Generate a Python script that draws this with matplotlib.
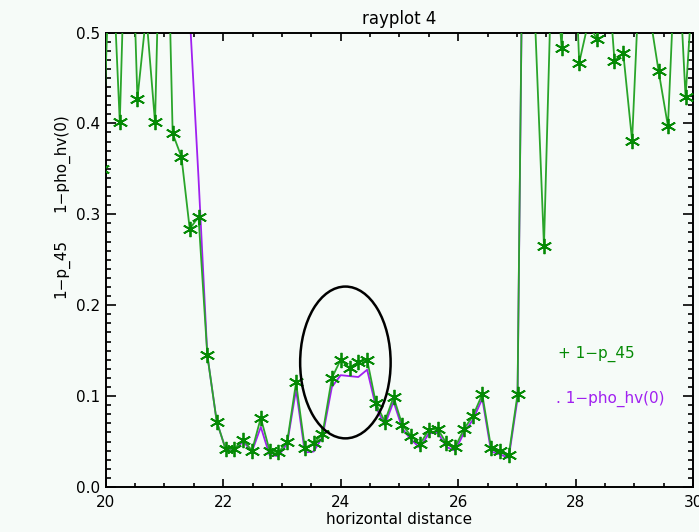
import matplotlib
matplotlib.use("Agg")
import matplotlib.pyplot as plt
from matplotlib.patches import Ellipse
from matplotlib.ticker import MultipleLocator, FormatStrFormatter

# horizontal positions of the ray samples
dist = [19.94, 20.09, 20.24, 20.39, 20.54, 20.69, 20.84, 20.99, 21.14, 21.29,
        21.43, 21.58, 21.73, 21.89, 22.04, 22.19, 22.34, 22.49, 22.64, 22.79,
        22.94, 23.09, 23.24, 23.39, 23.54, 23.69, 23.85, 24.00, 24.15, 24.30,
        24.45, 24.60, 24.75, 24.90, 25.05, 25.20, 25.35, 25.50, 25.65, 25.80,
        25.95, 26.10, 26.25, 26.41, 26.56, 26.71, 26.86, 27.01, 27.16, 27.31,
        27.46, 27.61, 27.76, 27.91, 28.06, 28.21, 28.36, 28.51, 28.66, 28.81,
        28.96, 29.11, 29.26, 29.41, 29.57, 29.72, 29.87, 30.02]

one_minus_p45 = [0.35, 0.62, 0.401, 0.74, 0.427, 0.52, 0.401, 0.80, 0.389, 0.363,
                 0.284, 0.297, 0.145, 0.072, 0.042, 0.042, 0.052, 0.040, 0.076, 0.040,
                 0.038, 0.050, 0.115, 0.043, 0.048, 0.058, 0.120, 0.140, 0.131, 0.137,
                 0.140, 0.092, 0.072, 0.099, 0.068, 0.056, 0.047, 0.063, 0.064, 0.048,
                 0.044, 0.064, 0.078, 0.102, 0.043, 0.040, 0.035, 0.102, 1.00, 0.51,
                 0.265, 0.62, 0.483, 0.70, 0.467, 0.51, 0.493, 0.60, 0.469, 0.477,
                 0.381, 0.60, 0.52, 0.458, 0.397, 0.62, 0.429, 0.58]

one_minus_rhohv = [1.0, 1.0, 1.0, 1.0, 1.0, 1.0, 1.0, 1.0, 1.0, 1.0,
                   0.52, 0.34, 0.145, 0.072, 0.042, 0.041, 0.050, 0.039, 0.066, 0.035,
                   0.034, 0.048, 0.107, 0.038, 0.039, 0.055, 0.110, 0.123, 0.122, 0.121,
                   0.129, 0.088, 0.068, 0.094, 0.064, 0.052, 0.043, 0.059, 0.060, 0.044,
                   0.040, 0.060, 0.074, 0.097, 0.039, 0.036, 0.032, 0.097, 1.0, 1.0,
                   1.0, 1.0, 1.0, 1.0, 1.0, 1.0, 1.0, 1.0, 1.0, 1.0,
                   1.0, 1.0, 1.0, 1.0, 1.0, 1.0, 1.0, 1.0]

bg = '#f6fbf8'
green_line = '#2aa52a'
green_mark = '#058a05'
purple = '#a020f0'

plt.rcParams['font.family'] = 'DejaVu Sans'

fig = plt.figure(figsize=(6.99, 5.32), dpi=100, facecolor=bg)
ax = fig.add_axes([0.1512, 0.0846, 0.8405, 0.8543], facecolor=bg)

ax.plot(dist, one_minus_rhohv, color=purple, lw=1.3, zorder=2)
ax.plot(dist, one_minus_p45, color=green_line, lw=1.3, zorder=3)
ax.plot(dist, one_minus_p45, linestyle='none', marker=(6, 2, 0), markersize=11,
        markeredgecolor=green_mark, markeredgewidth=1.3, zorder=4)

# highlight the bump near 24 km
ax.add_patch(Ellipse((24.08, 0.137), 1.54, 0.167, fill=False,
                     edgecolor='black', lw=1.8, zorder=5))

ax.set_xlim(20, 30)
ax.set_ylim(0, 0.5)
ax.xaxis.set_major_locator(MultipleLocator(2))
ax.xaxis.set_minor_locator(MultipleLocator(0.5))
ax.yaxis.set_major_locator(MultipleLocator(0.1))
ax.yaxis.set_minor_locator(MultipleLocator(0.01))
ax.yaxis.set_major_formatter(FormatStrFormatter('%.1f'))
ax.tick_params(which='both', direction='in', top=True, right=True,
               labelsize=11, width=1.2, colors='black')
ax.tick_params(axis='x', which='major', length=6, pad=6)
ax.tick_params(axis='x', which='minor', length=3)
ax.tick_params(axis='y', which='major', length=7, pad=4)
ax.tick_params(axis='y', which='minor', length=3.5)
for s in ax.spines.values():
    s.set_linewidth(1.4)

ax.set_title('rayplot 4', fontsize=12, pad=6)
ax.set_xlabel('horizontal distance', fontsize=11, labelpad=1)

fig.text(0.088, 0.496, '1\u2212p_45', rotation=90, ha='center', va='center', fontsize=11)
fig.text(0.088, 0.694, '1\u2212pho_hv(0)', rotation=90, ha='center', va='center', fontsize=11)

ax.text(0.770, 0.293, '+ 1\u2212p_45', transform=ax.transAxes, color=green_mark,
        fontsize=11, ha='left', va='center')
ax.text(0.766, 0.194, '. 1\u2212pho_hv(0)', transform=ax.transAxes, color=purple,
        fontsize=11, ha='left', va='center')

fig.savefig('out.png', dpi=100, facecolor=bg)
